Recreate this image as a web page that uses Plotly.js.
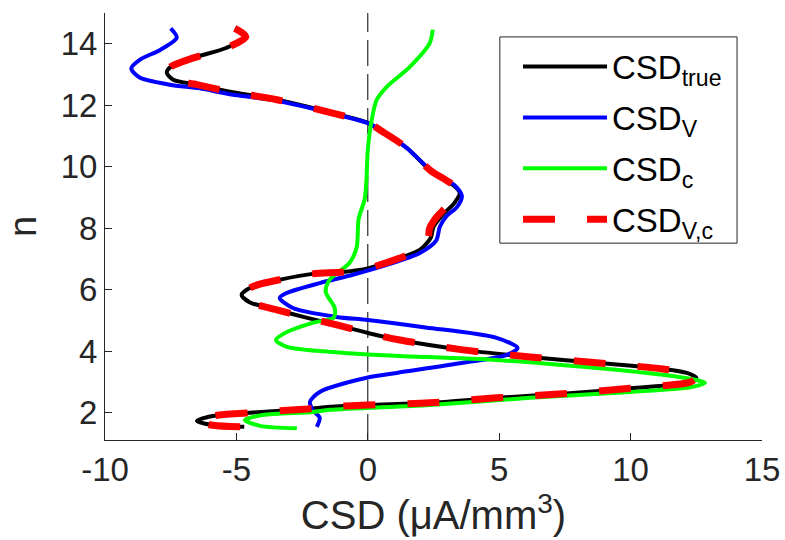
<!DOCTYPE html>
<html>
<head>
<meta charset="utf-8">
<script src="https://cdn.plot.ly/plotly-3.0.1.min.js"></script>
<style>html,body{margin:0;padding:0;background:#fff;}#chart{width:785px;height:540px;}</style>
</head>
<body>
<div id="chart"></div>
<script>
// CSD_true
const trueX = [-5.06,-4.64,-5.37,-6.6,-7.5,-7.65,-7.4,-6.5,-5.25,-3.46,-1.07,0,0.57,1.48,2.36,3.24,3.5,3.3,2.85,2.5,2.4,1.98,1.33,0,-0.95,-2.1,-3.35,-4.4,-4.8,-4.5,-3.46,-2.3,-1.18,0,1.22,3.62,6.17,8.7,11.23,12.14,12.5,12.26,10.0,7.42,4.9,2.36,0,-1.45,-2.3,-4.6,-5.9,-6.5,-5.9,-4.7];
const trueN = [14.5,14.23,13.87,13.55,13.25,13.06,12.83,12.67,12.44,12.18,11.69,11.43,11.14,10.62,9.9,9.41,9.15,8.83,8.44,8.05,7.7,7.3,7.07,6.7,6.58,6.52,6.33,6.1,5.84,5.6,5.35,5.09,4.86,4.6,4.37,4.05,3.82,3.63,3.43,3.3,3.14,3.0,2.8,2.62,2.49,2.33,2.26,2.2,2.13,2.0,1.9,1.74,1.6,1.55];
// CSD_V
const vX = [-7.5,-7.27,-7.9,-8.68,-9.0,-8.68,-7.53,-6.4,-5.25,-3.46,-1.1,0,0.6,1.5,2.4,3.3,3.58,3.4,3.0,2.74,2.6,1.98,0.72,-0.57,-1.83,-3.08,-3.35,-2.85,-1.18,0,2.2,4.9,5.7,5.3,3.62,1.1,0,-1.83,-2.2,-2.1,-1.83,-1.94];
const vN = [14.5,14.2,13.8,13.48,13.2,12.9,12.67,12.55,12.36,12.15,11.68,11.42,11.13,10.6,9.88,9.4,9.05,8.7,8.4,8.05,7.6,7.2,6.81,6.49,6.22,5.9,5.74,5.41,5.12,5.02,4.78,4.44,4.11,3.89,3.63,3.3,3.15,2.68,2.36,2.1,1.84,1.55];
// CSD_c
const cX = [2.47,2.36,1.6,0.72,0.34,0.15,0,-0.05,-0.12,-0.35,-0.42,-0.69,-1.45,-1.6,-1.26,-1.3,-2.1,-3.08,-3.5,-3.08,-1.33,0,1.2,4.9,8.7,11.23,12.5,12.83,12.37,10,6.17,2.36,-1.45,-2.1,-4.0,-4.68,-4.1,-2.7];
const cN = [14.46,14.03,13.25,12.6,12.18,11.53,10.55,9.6,8.95,8.3,7.4,6.88,6.33,5.93,5.41,5.1,4.93,4.63,4.37,4.15,3.98,3.9,3.85,3.72,3.46,3.24,3.07,2.98,2.85,2.68,2.49,2.26,2.1,2.03,1.93,1.77,1.58,1.5];
// CSD_V,c
const vcX = [-5.06,-4.64,-5.37,-6.6,-7.5,-7.65,-7.4,-6.5,-5.25,-3.46,-1.07,0,0.57,1.48,2.36,3.24,3.4,3.15,2.6,2.35,2.3,1.98,1.33,0,-0.95,-2.1,-3.35,-4.4,-4.8,-4.5,-3.46,-2.3,-1.18,0,1.22,3.62,6.17,8.7,11.23,12.14,12.5,12.26,10.0,7.42,4.9,2.36,0,-1.45,-2.3,-4.6,-5.9,-6.5,-5.9,-4.7];
const vcN = [14.5,14.23,13.87,13.55,13.25,13.06,12.83,12.67,12.44,12.18,11.69,11.43,11.14,10.62,9.9,9.41,9.2,8.85,8.35,8.0,7.7,7.3,7.07,6.7,6.58,6.52,6.33,6.1,5.84,5.6,5.35,5.09,4.86,4.6,4.37,4.05,3.82,3.63,3.43,3.3,3.14,3.0,2.8,2.62,2.49,2.33,2.26,2.2,2.13,2.0,1.9,1.74,1.6,1.55];

const xTicks = [-10,-5,0,5,10,15];
const yTicks = [2,4,6,8,10,12,14];

const FONT = 'Liberation Sans, Arial, Helvetica, sans-serif';
const AX = '#262626';

const sp = {shape:'spline', smoothing:0.8};
const traces = [
  {x:trueX, y:trueN, mode:'lines', name:'CSD<sub>true</sub>', legendgroup:'g1', line:Object.assign({color:'#000000', width:4}, sp)},
  {x:vX, y:vN, mode:'lines', name:'CSD<sub>V</sub>', legendgroup:'g2', line:Object.assign({color:'#0000ff', width:4}, sp)},
  {x:cX, y:cN, mode:'lines', name:'CSD<sub>c</sub>', legendgroup:'g3', line:Object.assign({color:'#00ff00', width:4}, sp)},
  {x:vcX, y:vcN, mode:'lines', name:'CSD<sub>V,c</sub>', legendgroup:'g4', line:Object.assign({color:'#ff0000', width:7, dash:'32px,32px'}, sp)}
];

const layout = {
  width:785, height:540,
  margin:{l:105, r:23, t:13, b:100},
  paper_bgcolor:'#ffffff', plot_bgcolor:'#ffffff',
  font:{family:FONT, color:AX, size:32},
  showlegend:true,
  legend:{
    x:0.6286, y:0.94, xanchor:'left', yanchor:'top',
    bgcolor:'rgba(0,0,0,0)', borderwidth:0,
    font:{family:FONT, size:33, color:'#000000'},
    itemwidth:84, tracegroupgap:5, traceorder:'grouped'
  },
  xaxis:{
    range:[-10,15], tickmode:'array', tickvals:xTicks, ticktext:xTicks.map(String),
    ticks:'inside', ticklen:7, tickwidth:1, tickcolor:AX,
    showline:true, linecolor:AX, linewidth:1, mirror:false,
    showgrid:false, zeroline:false,
    tickfont:{family:FONT, size:33, color:AX},
    title:{text:'CSD (μA/mm<sup>3</sup>)', font:{family:FONT, size:40, color:AX}, standoff:10}
  },
  yaxis:{
    range:[1.12,15], tickmode:'array', tickvals:yTicks, ticktext:yTicks.map(String),
    ticks:'inside', ticklen:7, tickwidth:1, tickcolor:AX,
    showline:true, linecolor:AX, linewidth:1, mirror:false,
    showgrid:false, zeroline:false,
    tickfont:{family:FONT, size:33, color:AX},
    title:{text:'n', font:{family:FONT, size:38, color:AX}, standoff:12}
  },
  shapes:[
    {type:'line', xref:'x', yref:'paper', x0:0, x1:0, y0:0, y1:1,
     line:{color:'#000000', width:1, dash:'26px,8px'}, layer:'below'},
    {type:'rect', xref:'paper', yref:'paper', x0:0.601, x1:0.962, y0:0.461, y1:0.944,
     line:{color:AX, width:1}, fillcolor:'rgba(0,0,0,0)', layer:'below'}
  ]
};

Plotly.newPlot('chart', traces, layout, {displayModeBar:false, staticPlot:true});
</script>
</body>
</html>
